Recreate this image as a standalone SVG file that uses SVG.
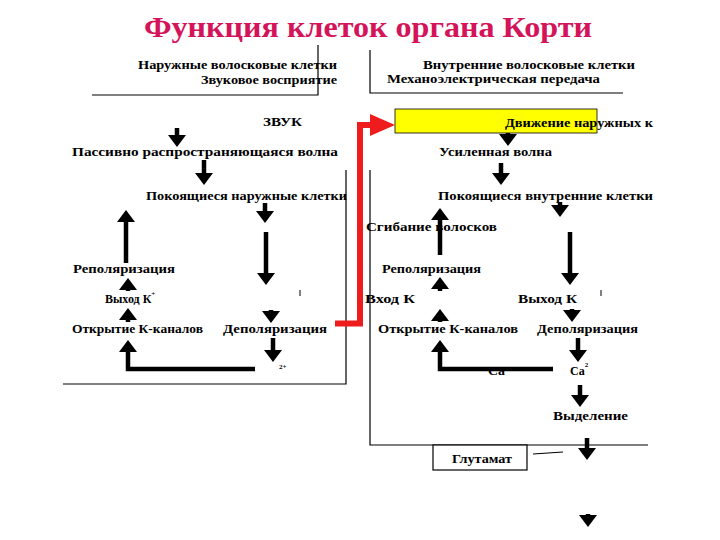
<svg xmlns="http://www.w3.org/2000/svg" width="720" height="540" viewBox="0 0 720 540">
<style>
.t{font-family:"Liberation Serif","Times New Roman",serif;font-weight:bold;font-size:12px;fill:#000}
.sm{font-family:"Liberation Serif","Times New Roman",serif;font-weight:bold;font-size:7px;fill:#000}
.title{font-family:"Liberation Serif","Times New Roman",serif;font-weight:bold;font-size:29px;fill:#d4145a}
.frame{stroke:#000;stroke-width:1.2;fill:none}
.ar{stroke:#000;stroke-width:4.5;fill:none;marker-end:url(#head)}
.tick{stroke:#000;stroke-width:1}
</style>
<defs>
<marker id="head" markerUnits="userSpaceOnUse" viewBox="0 0 12 18" markerWidth="12" markerHeight="18" refX="0" refY="9" orient="auto">
<path d="M0,0 L12,9 L0,18 Z" fill="#000"/>
</marker>
</defs>
<rect width="720" height="540" fill="#fff"/>
<g id="title"><text class="title" x="144" y="37" textLength="448" lengthAdjust="spacingAndGlyphs">Функция клеток органа Корти</text></g>

<g id="frames">
<path class="frame" d="M318,45 V95 H92"/>
<path class="frame" d="M370,50 V93 H623"/>
<path class="frame" d="M346,170 V384 H63"/>
<path class="frame" d="M370,170 V445 H648"/>
<line class="frame" x1="533" y1="454" x2="563" y2="452"/>
<line class="tick" x1="300" y1="290" x2="300" y2="296"/>
<line class="tick" x1="601" y1="290" x2="601" y2="296"/>
</g>

<g id="outer-header">
<text class="t" x="138" y="69" textLength="199" lengthAdjust="spacingAndGlyphs">Наружные волосковые клетки</text>
<text class="t" x="201" y="84" textLength="136" lengthAdjust="spacingAndGlyphs">Звуковое восприятие</text>
</g>
<g id="inner-header">
<text class="t" x="423" y="69" textLength="212" lengthAdjust="spacingAndGlyphs">Внутренние волосковые клетки</text>
<text class="t" x="387" y="83" textLength="213" lengthAdjust="spacingAndGlyphs">Механоэлектрическая  передача</text>
</g>

<g id="n-zvuk"><text class="t" x="263" y="126" textLength="39" lengthAdjust="spacingAndGlyphs">ЗВУК</text></g>
<g id="n-passive"><text class="t" x="72" y="156" textLength="266" lengthAdjust="spacingAndGlyphs">Пассивно распространяющаяся волна</text></g>
<g id="n-outer-rest"><text class="t" x="146" y="200" textLength="201" lengthAdjust="spacingAndGlyphs">Покоящиеся наружные клетки</text></g>
<g id="n-repol-l"><text class="t" x="73" y="273" textLength="102" lengthAdjust="spacingAndGlyphs">Реполяризация</text></g>
<g id="n-exit-l"><text class="t" x="105" y="303">Выход К<tspan font-size="7" dy="-7">+</tspan></text></g>
<g id="n-open-l"><text class="t" x="72" y="333" textLength="131" lengthAdjust="spacingAndGlyphs">Открытие К-каналов</text></g>
<g id="n-depol-l"><text class="t" x="223" y="333" textLength="104" lengthAdjust="spacingAndGlyphs">Деполяризация</text></g>
<g id="n-ca-l"><text class="sm" x="279" y="369">2+</text></g>

<g id="n-motion">
<rect x="395" y="109" width="202" height="24" fill="#ffff00" stroke="#000" stroke-width="0.8"/>
<text class="t" x="505" y="127" textLength="148" lengthAdjust="spacingAndGlyphs">Движение наружных к</text>
</g>
<g id="n-amplified"><text class="t" x="439" y="156" textLength="113" lengthAdjust="spacingAndGlyphs">Усиленная волна</text></g>
<g id="n-inner-rest"><text class="t" x="438" y="200" textLength="215" lengthAdjust="spacingAndGlyphs">Покоящиеся внутренние клетки</text></g>
<g id="n-bend"><text class="t" x="366" y="231" textLength="131" lengthAdjust="spacingAndGlyphs">Сгибание волосков</text></g>
<g id="n-repol-r"><text class="t" x="382" y="273" textLength="99" lengthAdjust="spacingAndGlyphs">Реполяризация</text></g>
<g id="n-entry"><text class="t" x="365" y="303" textLength="50" lengthAdjust="spacingAndGlyphs">Вход  К</text></g>
<g id="n-exit-r"><text class="t" x="518" y="303" textLength="59" lengthAdjust="spacingAndGlyphs">Выход К</text></g>
<g id="n-open-r"><text class="t" x="378" y="333" textLength="140" lengthAdjust="spacingAndGlyphs">Открытие К-каналов</text></g>
<g id="n-depol-r"><text class="t" x="537" y="333" textLength="101" lengthAdjust="spacingAndGlyphs">Деполяризация</text></g>
<g id="n-ca-mid"><text class="t" x="488" y="375" textLength="17" lengthAdjust="spacingAndGlyphs">Ca</text></g>
<g id="n-ca-r"><text class="t" x="570" y="375">Ca<tspan font-size="7" dy="-8">2</tspan></text></g>
<g id="n-release"><text class="t" x="553" y="420" textLength="75" lengthAdjust="spacingAndGlyphs">Выделение</text></g>
<g id="n-glutamate">
<rect x="433" y="445" width="94" height="25" fill="#fff" stroke="#000" stroke-width="1.2"/>
<text class="t" x="452" y="463" font-size="11" textLength="60" lengthAdjust="spacingAndGlyphs">Глутамат</text>
</g>

<g id="connectors">
<path class="ar" d="M177,128 V135"/>
<path class="ar" d="M204,160 V173"/>
<path class="ar" d="M265,203 V211"/>
<path class="ar" d="M126,263 V222"/>
<path class="ar" d="M266,232 V273"/>
<path class="ar" d="M128,291 V290"/>
<path class="ar" d="M128,322 V320"/>
<path class="ar" d="M255,369 H128 V352"/>
<path class="ar" d="M271,310 V311"/>
<path class="ar" d="M273,338 V350"/>

<path class="ar" d="M508,133 V134"/>
<path class="ar" d="M501,163 V173"/>
<path class="ar" d="M560,202 V205"/>
<path class="ar" d="M440,255 V220"/>
<path class="ar" d="M570,232 V273"/>
<path class="ar" d="M440,291 V289"/>
<path class="ar" d="M440,322 V321"/>
<path class="ar" d="M553,369 H440 V352"/>
<path class="ar" d="M572,309 V310"/>
<path class="ar" d="M578,338 V350"/>
<path class="ar" d="M580,385 V395"/>
<path class="ar" d="M587,438 V448"/>
<path class="ar" d="M588,514 V515"/>

<path d="M335,323.5 H360 V125 H372" fill="none" stroke="#ee1c1c" stroke-width="6"/>
<path d="M370,114 L395,125 L370,136 Z" fill="#ee1c1c"/>
</g>
</svg>
